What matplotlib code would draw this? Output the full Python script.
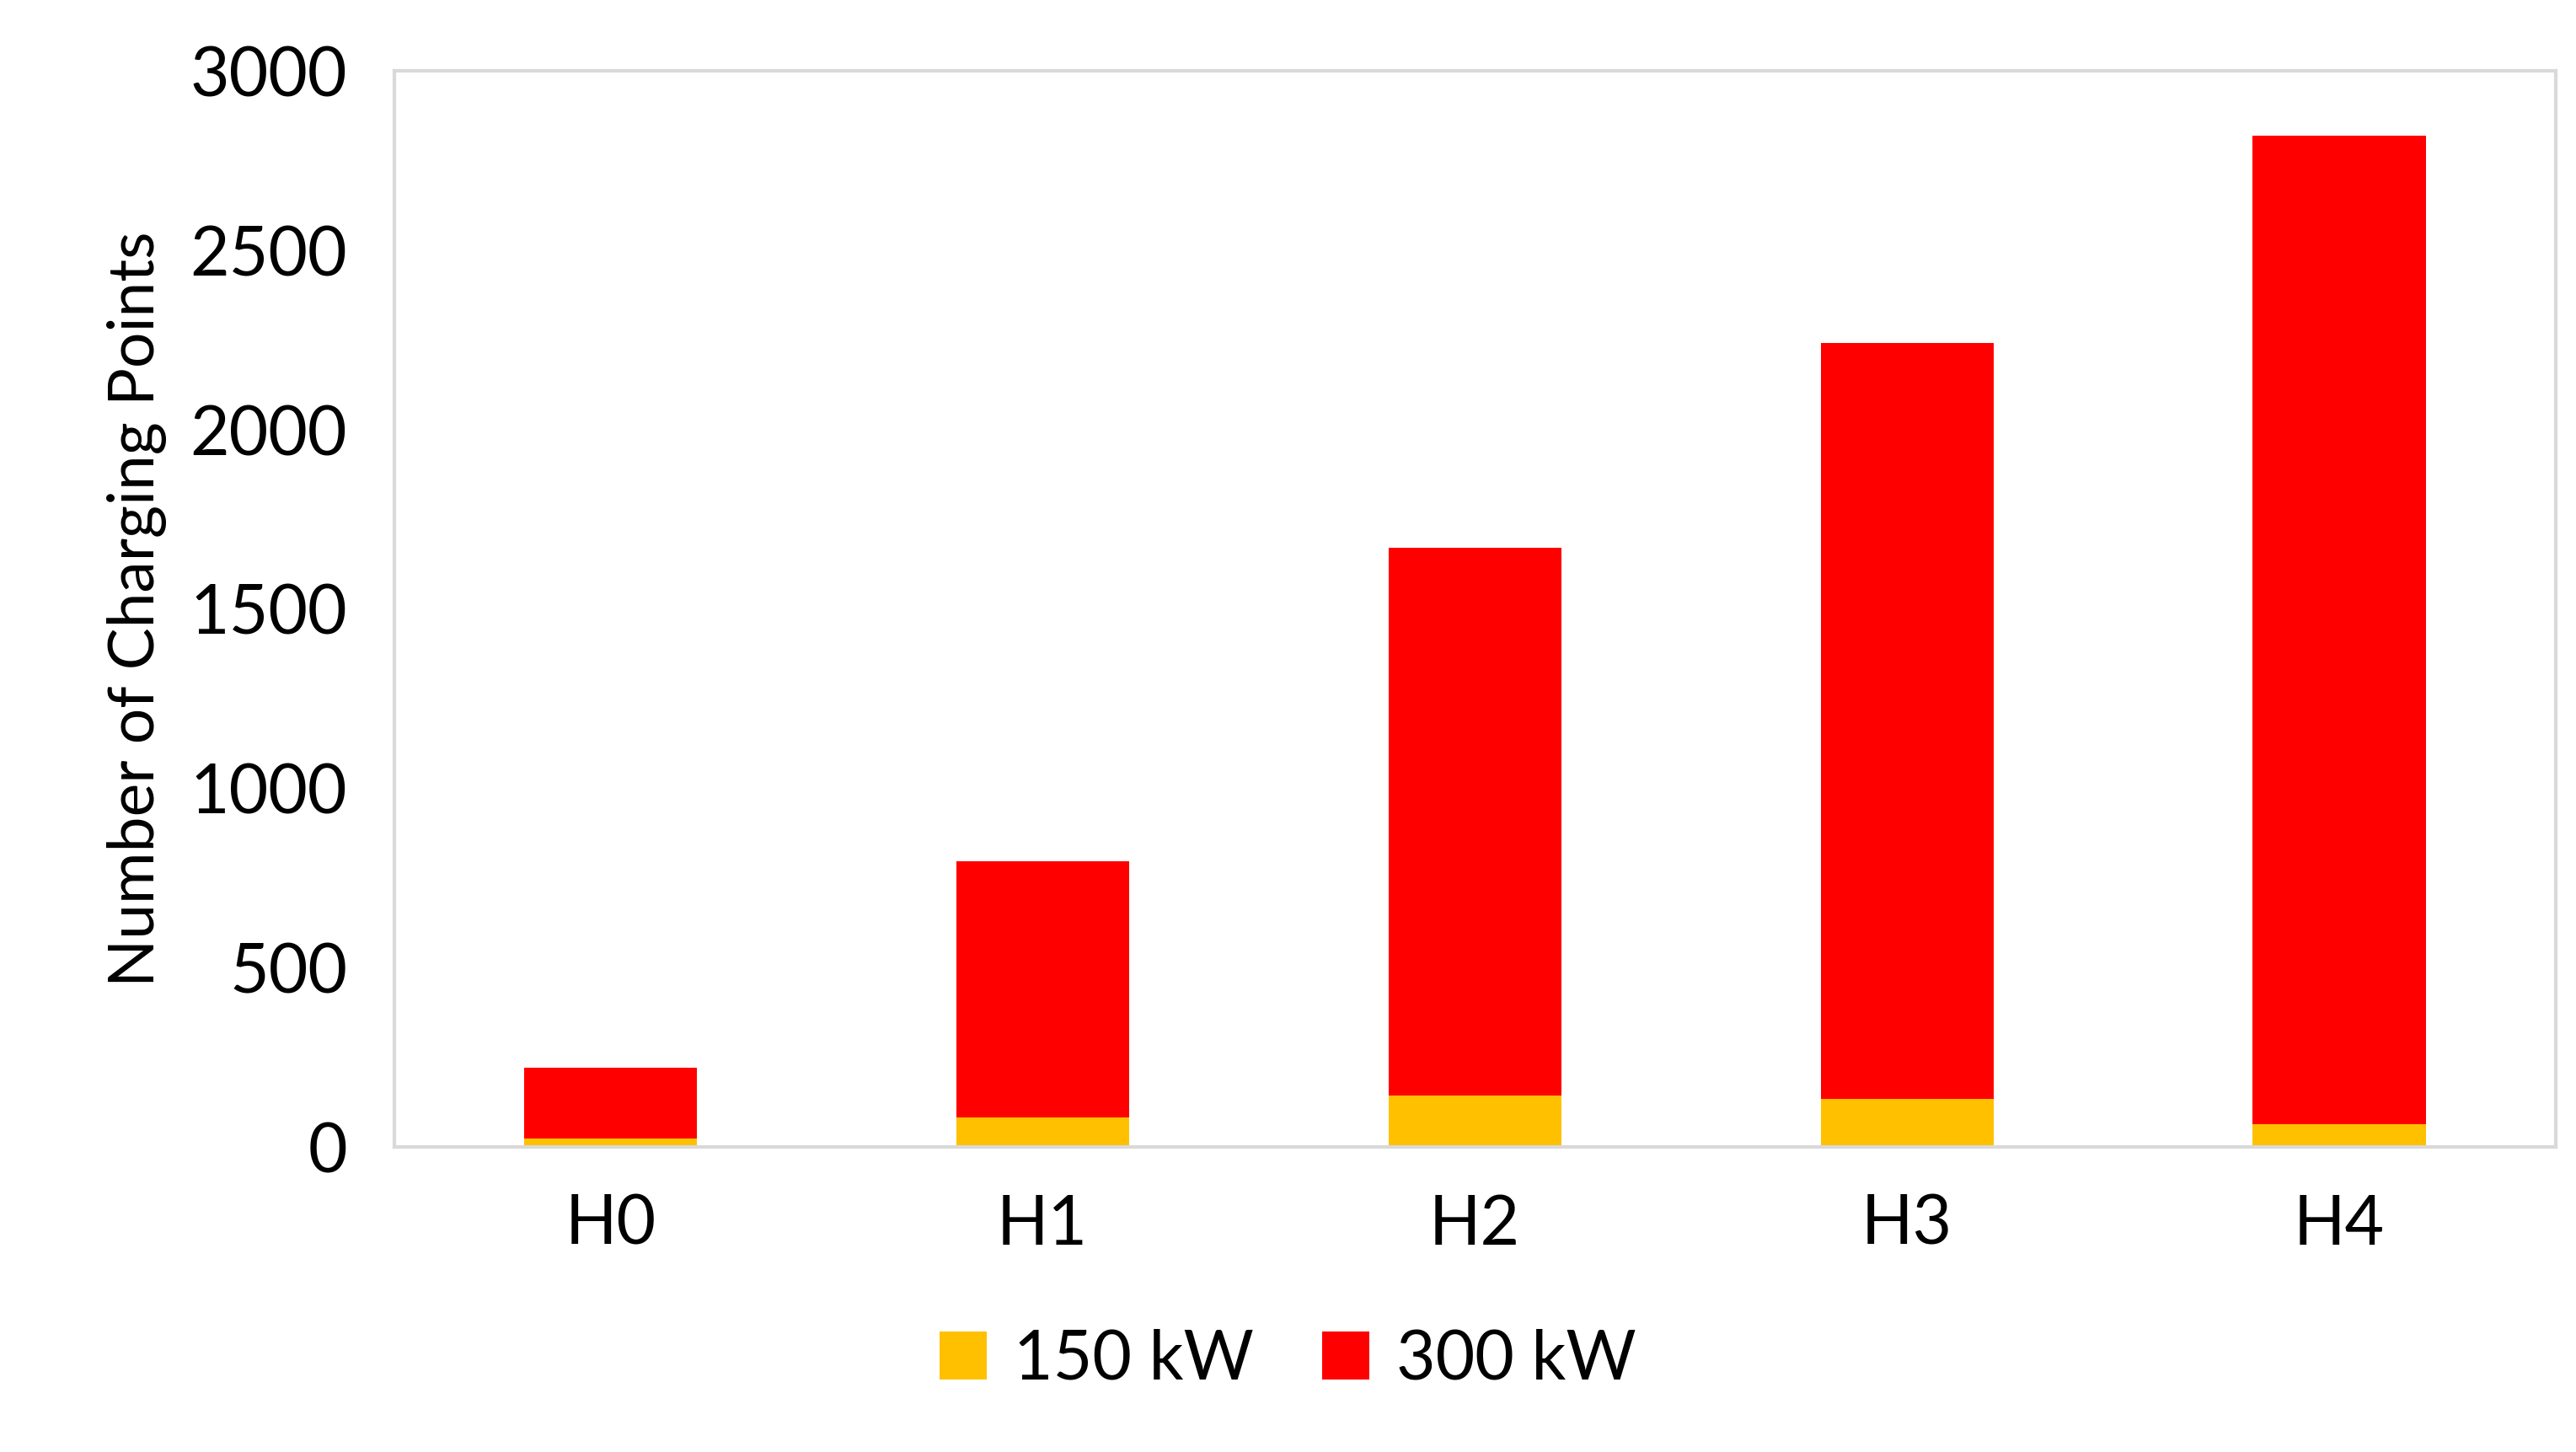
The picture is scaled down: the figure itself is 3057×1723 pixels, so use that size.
import matplotlib
matplotlib.use("Agg")
import matplotlib.pyplot as plt

categories = ["H0", "H1", "H2", "H3", "H4"]
kw150 = [23, 83, 143, 134, 65]
kw300 = [199, 713, 1528, 2107, 2754]
series_labels = ["150 kW", "300 kW"]
yticks = [0, 500, 1000, 1500, 2000, 2500, 3000]

plt.rcParams['font.family'] = ['Lato', 'DejaVu Sans']
fig = plt.figure(figsize=(30.57, 17.23), dpi=100)
ax = fig.add_axes([0.153, 0.21, 0.839, 0.741])
x = range(len(categories))
ax.bar(x, kw150, width=0.4, color="#FFC000", label=series_labels[0])
ax.bar(x, kw300, width=0.4, bottom=kw150, color="#FF0000", label=series_labels[1])
ax.set_xlim(-0.5, 4.5)
ax.set_ylim(0, 3000)
ax.set_yticks(yticks)
ax.set_xticks(list(x))
ax.set_xticklabels(categories)
ax.tick_params(axis='both', length=0, labelsize=58)
ax.tick_params(axis='x', pad=40)
ax.tick_params(axis='y', pad=40)
for s in ax.spines.values():
    s.set_color("#D9D9D9")
    s.set_linewidth(3)
ax.set_ylabel("Number of Charging Points", fontsize=54, labelpad=20)
fig.legend(loc="lower center", bbox_to_anchor=(0.5, 0.0), ncol=2, frameon=False,
           fontsize=58, handlelength=0.7, handleheight=0.7, handletextpad=0.4, columnspacing=1.0)
fig.savefig("out.png", dpi=100)
